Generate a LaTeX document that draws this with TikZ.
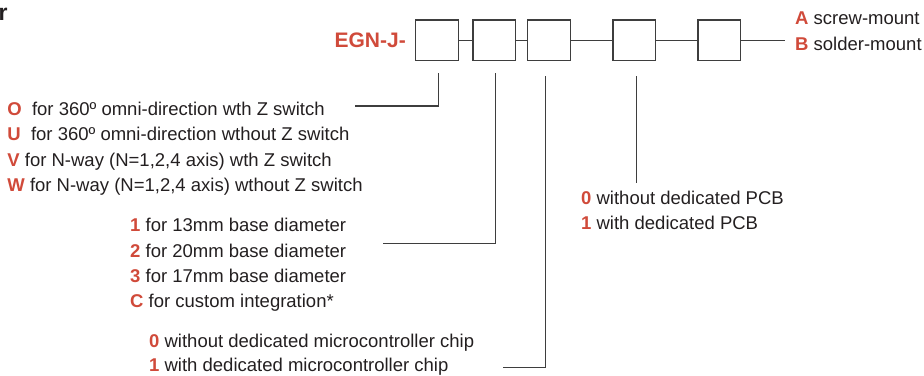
\documentclass[tikz,border=0pt]{standalone}
\usepackage{fontspec}
\setmainfont{Liberation Sans}
\definecolor{codered}{RGB}{208,74,58}
\definecolor{txt}{RGB}{35,31,32}
\definecolor{ln}{RGB}{62,62,62}
\newcommand{\lab}[1]{\textbf{\textcolor{codered}{#1}}}
\begin{document}
\begin{tikzpicture}[x=1pt,y=-1pt,
  codebox/.style={draw=ln,line width=1.3pt,minimum width=42.6pt,minimum height=40.7pt,inner sep=0pt},
  item/.style={anchor=base west,inner sep=0pt,text=txt,font=\fontsize{18.5}{22}\selectfont},
  conn/.style={draw=ln,line width=1.3pt}]
\useasboundingbox (0,0) rectangle (924,375);
% heading fragment
\node[anchor=base west,inner sep=0pt,text=txt,font=\fontsize{23}{26}\selectfont\bfseries] (head) at (-1.5,20.5) {r};
% code line
\node[anchor=base east,inner sep=0pt,text=codered,font=\fontsize{21}{25}\selectfont\bfseries] (pre) at (406,47.8) {EGN-J-};
\node[codebox] (b1) at (437,40.3) {};
\node[codebox] (b2) at (494.3,40.3) {};
\node[codebox] (b3) at (549,40.3) {};
\node[codebox] (b4) at (634.2,40.3) {};
\node[codebox] (b5) at (719.3,40.3) {};
\coordinate (rend) at (785,40.3);
\draw[conn] (b1.east) -- (b2.west);
\draw[conn] (b2.east) -- (b3.west);
\draw[conn] (b3.east) -- (b4.west);
\draw[conn] (b4.east) -- (b5.west);
\draw[conn] (b5.east) -- (rend);
% right labels
\node[item] (ta) at (795,24.6) {\lab{A} screw-mount};
\node[item] (tb) at (795,50.6) {\lab{B} solder-mount};
% left list
\node[item] (o) at (7.2,115.1) {\lab{O}\ \ for 360º omni-direction wth Z switch};
\node[item] (u) at (7.2,140.6) {\lab{U}\ \ for 360º omni-direction wthout Z switch};
\node[item] (v) at (7.2,166.1) {\lab{V} for N-way (N=1,2,4 axis) wth Z switch};
\node[item] (w) at (7.2,191.6) {\lab{W} for N-way (N=1,2,4 axis) wthout Z switch};
% middle list
\node[item] (d1) at (130,231.6) {\lab{1} for 13mm base diameter};
\node[item] (d2) at (130,257) {\lab{2} for 20mm base diameter};
\node[item] (d3) at (130,282.4) {\lab{3} for 17mm base diameter};
\node[item] (dc) at (130,307) {\lab{C} for custom integration*};
% lower list
\node[item] (m0) at (149,347.3) {\lab{0} without dedicated microcontroller chip};
\node[item] (m1) at (149,371.2) {\lab{1} with dedicated microcontroller chip};
% right list
\node[item] (p0) at (581,204.6) {\lab{0} without dedicated PCB};
\node[item] (p1) at (581,229.6) {\lab{1} with dedicated PCB};
% connectors
\coordinate (c1t) at (438.8,73);
\coordinate (c1b) at (438.8,106);
\coordinate (c1e) at (355,106);
\draw[conn] (c1t) -- (c1b) -- (c1e);
\coordinate (c2t) at (495.2,73);
\coordinate (c2b) at (495.2,243.3);
\coordinate (c2e) at (383,243.3);
\draw[conn] (c2t) -- (c2b) -- (c2e);
\coordinate (c3t) at (545.7,76);
\coordinate (c3b) at (545.7,367.3);
\coordinate (c3e) at (503,367.3);
\draw[conn] (c3t) -- (c3b) -- (c3e);
\coordinate (c4t) at (636.7,76);
\coordinate (c4b) at (636.7,183);
\draw[conn] (c4t) -- (c4b);
\end{tikzpicture}
\end{document}
